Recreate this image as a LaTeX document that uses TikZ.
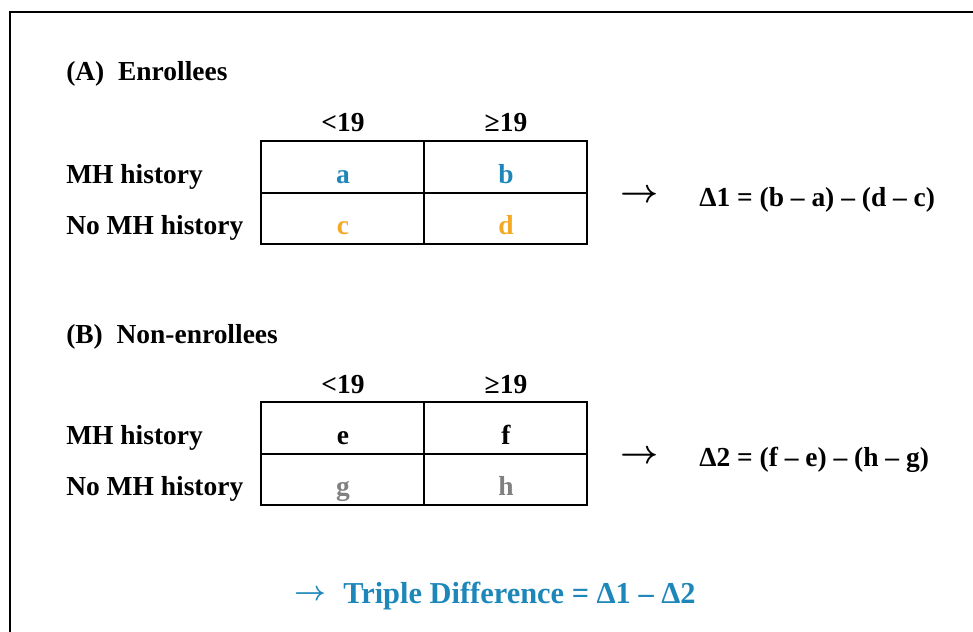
\documentclass[tikz,border=0pt]{standalone}
\usepackage{fontspec}
\setmainfont{Liberation Serif}
\usetikzlibrary{positioning}
\definecolor{tblue}{RGB}{30,135,185}
\definecolor{torange}{RGB}{245,168,35}
\definecolor{tgray}{RGB}{128,128,128}

\begin{document}
\begin{tikzpicture}[x=0.75pt,y=-0.75pt,
    every node/.style={font=\fontsize{20.6}{24}\selectfont\bfseries,inner sep=0pt,anchor=base},
    outer/.style={line width=1.5pt},
    inner/.style={line width=0.9pt}]
  \useasboundingbox (0,0) rectangle (973,631);
  \draw[line width=1.8pt] (990,12) -- (10,12) -- (10,650);

  % (A) enrollees
  \node[anchor=base west] (titleA) at (66,81) {(A)\enspace Enrollees};
  \node (lowA) at (343,132) {<19};
  \node (highA) at (506,132) {≥19};
  \node[anchor=base west] (mhA) at (66,183) {MH history};
  \node[anchor=base west] (nomhA) at (66,234) {No MH history};
  \draw[outer] (261,141) rectangle (587,244);
  \draw[inner] (261,193) -- (587,193) (424,141) -- (424,244);
  \node[text=tblue] (a) at (343,183) {a};
  \node[text=tblue] (b) at (506,183) {b};
  \node[text=torange] (c) at (343,234) {c};
  \node[text=torange] (d) at (506,234) {d};
  \node[font=\fontsize{25.5}{28}\selectfont\boldmath,anchor=center] (arrA) at (640,196) {$\rightarrow$};
  \node[anchor=base west] (deltaA) at (699,206) {Δ1 = (b – a) – (d – c)};

  % (B) non-enrollees
  \node[anchor=base west] (titleB) at (66,343) {(B)\enspace Non-enrollees};
  \node (lowB) at (343,393) {<19};
  \node (highB) at (506,393) {≥19};
  \node[anchor=base west] (mhB) at (66,444) {MH history};
  \node[anchor=base west] (nomhB) at (66,495) {No MH history};
  \draw[outer] (261,402) rectangle (587,505);
  \draw[inner] (261,454) -- (587,454) (424,402) -- (424,505);
  \node (e) at (343,444) {e};
  \node (f) at (506,444) {f};
  \node[text=tgray] (g) at (343,495) {g};
  \node[text=tgray] (h) at (506,495) {h};
  \node[font=\fontsize{25.5}{28}\selectfont\boldmath,anchor=center] (arrB) at (640,457) {$\rightarrow$};
  \node[anchor=base west] (deltaB) at (699,466) {Δ2 = (f – e) – (h – g)};

  % triple difference
  \node[font=\fontsize{19.5}{22}\selectfont\boldmath,text=tblue,anchor=center] (arrT) at (310,595) {$\rightarrow$};
  \node[font=\fontsize{22.8}{26}\selectfont\bfseries,text=tblue,anchor=base west] (triple) at (343,603)
    {Triple Difference = Δ1 – Δ2};
\end{tikzpicture}
\end{document}
